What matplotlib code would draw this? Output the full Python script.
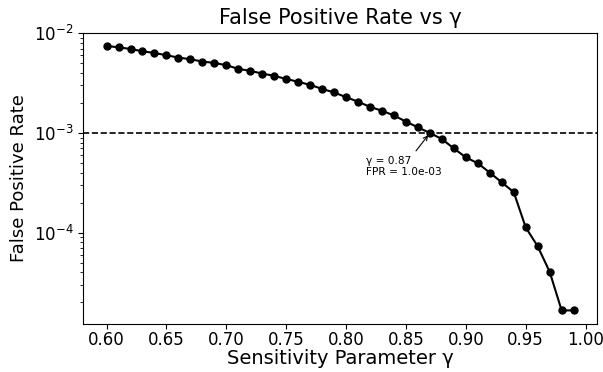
import numpy as np
import matplotlib
matplotlib.use('Agg')
import matplotlib.pyplot as plt

# sensitivity values and measured false positive rate
gammas = [0.60, 0.61, 0.62, 0.63, 0.64, 0.65, 0.66, 0.67, 0.68, 0.69,
          0.70, 0.71, 0.72, 0.73, 0.74, 0.75, 0.76, 0.77, 0.78, 0.79,
          0.80, 0.81, 0.82, 0.83, 0.84, 0.85, 0.86, 0.87, 0.88, 0.89,
          0.90, 0.91, 0.92, 0.93, 0.94, 0.95, 0.96, 0.97, 0.98, 0.99]
fpr = [7.47e-3, 7.24e-3, 6.97e-3, 6.60e-3, 6.35e-3, 6.03e-3, 5.71e-3, 5.50e-3, 5.21e-3, 5.05e-3,
       4.79e-3, 4.40e-3, 4.20e-3, 3.95e-3, 3.74e-3, 3.49e-3, 3.26e-3, 3.04e-3, 2.77e-3, 2.55e-3,
       2.29e-3, 2.06e-3, 1.83e-3, 1.67e-3, 1.50e-3, 1.30e-3, 1.14e-3, 1.00e-3, 8.7e-4, 7.0e-4,
       5.7e-4, 4.97e-4, 4.0e-4, 3.2e-4, 2.55e-4, 1.13e-4, 7.3e-5, 4.05e-5, 1.66e-5, 1.66e-5]
target = 1e-3
g_sel = 0.87
fpr_sel = 1.0e-3

fig, ax = plt.subplots(figsize=(6.03, 3.72), dpi=100)
fig.subplots_adjust(left=0.138, right=0.99, top=0.912, bottom=0.13)

ax.plot(gammas, fpr, 'o-', color='black', markersize=5, linewidth=1.5)
ax.axhline(target, color='black', linestyle='--', linewidth=1.2)
ax.set_yscale('log')

ax.annotate('γ = %.2f\nFPR = %.1e' % (g_sel, fpr_sel),
            xy=(g_sel, fpr_sel), xytext=(0.8165, 5.9e-4),
            fontsize=7.6, va='top', ha='left',
            arrowprops=dict(arrowstyle='->', color='black', lw=0.8))

ax.set_title('False Positive Rate vs γ', fontsize=15)
ax.set_xlabel('Sensitivity Parameter γ', fontsize=14, labelpad=0)
ax.set_ylabel('False Positive Rate', fontsize=13)
ax.tick_params(labelsize=12)
ax.tick_params(axis='x', pad=1.5)

fig.savefig('out.png', dpi=100)
